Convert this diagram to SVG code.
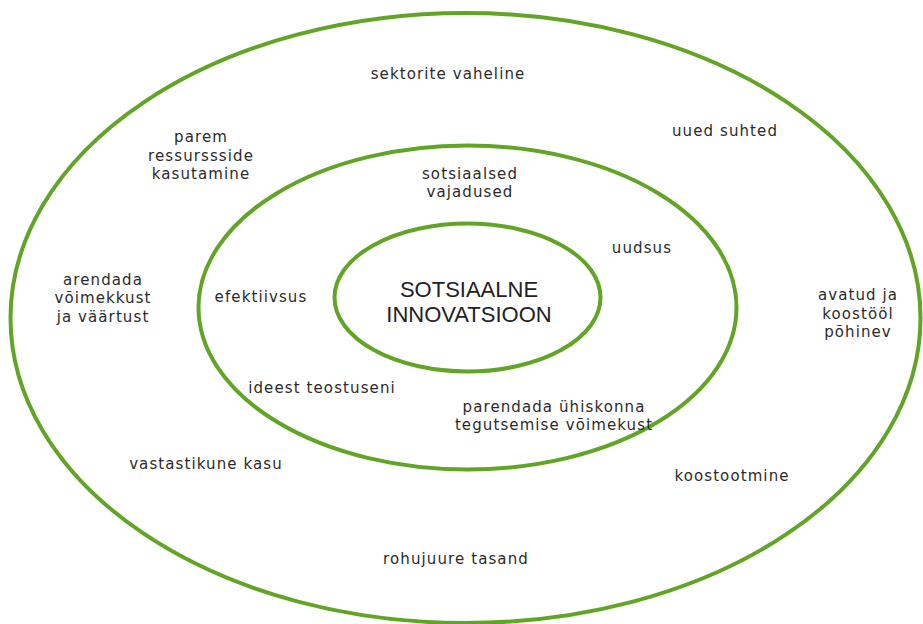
<svg xmlns="http://www.w3.org/2000/svg" width="923" height="624" viewBox="0 0 923 624">
<style>
.ring{fill:none;stroke:#62a526;stroke-width:4}
.t{font-family:"DejaVu Sans",Verdana,sans-serif;font-size:15px;letter-spacing:1.1px;fill:#2b2b2b;text-anchor:middle}
.c{font-family:"Liberation Sans",Arial,sans-serif;font-size:22px;fill:#222;text-anchor:middle}
</style>
<rect width="923" height="624" fill="#fff"/>
<g id="outer">
<ellipse class="ring" cx="465.5" cy="318" rx="455" ry="305"/>
<text class="t" x="448" y="79">sektorite vaheline</text>
<text class="t" x="201" y="142">parem</text>
<text class="t" x="201" y="161">ressurssside</text>
<text class="t" x="201" y="179">kasutamine</text>
<text class="t" x="725" y="136">uued suhted</text>
<text class="t" x="103" y="285">arendada</text>
<text class="t" x="103" y="303">võimekkust</text>
<text class="t" x="103" y="322">ja väärtust</text>
<text class="t" x="858" y="300">avatud ja</text>
<text class="t" x="858" y="319">koostööl</text>
<text class="t" x="858" y="337">põhinev</text>
<text class="t" x="206" y="469">vastastikune kasu</text>
<text class="t" x="732" y="481">koostootmine</text>
<text class="t" x="456" y="564">rohujuure tasand</text>
</g>
<g id="middle">
<ellipse class="ring" cx="467.5" cy="307.5" rx="269" ry="162"/>
<text class="t" x="470" y="179">sotsiaalsed</text>
<text class="t" x="470" y="197">vajadused</text>
<text class="t" x="642" y="253">uudsus</text>
<text class="t" x="261" y="302">efektiivsus</text>
<text class="t" x="322" y="393">ideest teostuseni</text>
<text class="t" x="554" y="412">parendada ühiskonna</text>
<text class="t" x="554" y="430">tegutsemise võimekust</text>
</g>
<g id="center">
<ellipse class="ring" cx="467.5" cy="297.5" rx="133" ry="74"/>
<text class="c" x="469" y="297">SOTSIAALNE</text>
<text class="c" x="469" y="322">INNOVATSIOON</text>
</g>
<g id="connectors"/>
</svg>
